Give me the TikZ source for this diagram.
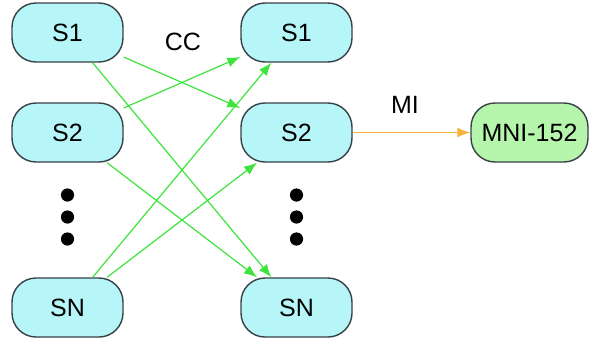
\documentclass[tikz,border=0pt]{standalone}
\usepackage{fontspec}
\setmainfont{Liberation Sans}
\usetikzlibrary{arrows.meta}
\definecolor{scanfill}{RGB}{182,245,248}
\definecolor{atlasfill}{RGB}{182,245,172}
\definecolor{boxline}{RGB}{55,65,70}
\definecolor{ccgreen}{RGB}{60,228,60}
\definecolor{miorange}{RGB}{245,178,60}

\begin{document}
\begin{tikzpicture}[x=0.5pt, y=-0.5pt, font=\fontsize{12.5}{14}\selectfont,
        scan/.style={draw=boxline, line width=0.7pt, fill=scanfill, rounded corners=12pt,
            minimum width=55.5pt, minimum height=29.5pt, inner sep=0pt},
        atlas/.style={scan, fill=atlasfill, minimum width=58.5pt},
        cc/.style={-{Latex[length=6.5pt,width=5pt]}, draw=ccgreen, fill=ccgreen, line width=0.6pt},
        mi/.style={-{Latex[length=6.5pt,width=5pt]}, draw=miorange, fill=miorange, line width=0.8pt}]
        \useasboundingbox (0,0) rectangle (589,343);

        \node[scan] (l1) at (67.5, 32.5) {S1};
        \node[scan] (l2) at (67.5, 132.5) {S2};
        \node[scan] (ln) at (67.5, 307.5) {SN};
        \node[scan] (r1) at (296.5, 32.5) {S1};
        \node[scan] (r2) at (296.5, 132.5) {S2};
        \node[scan] (rn) at (296.5, 307.5) {SN};
        \node[atlas] (mni) at (529.5, 132.5) {MNI-152};

        \node (cclabel) at (183, 42) {CC};
        \node (milabel) at (405, 105) {MI};

        \foreach \y in {195, 217, 239} {
            \fill (67.5, \y) circle (3.3pt);
            \fill (296.5, \y) circle (3.3pt);
        }

        \path[cc]
        (l1) edge (r2)
        (l1) edge (rn)
        (l2) edge (r1)
        (l2) edge (rn)
        (ln) edge (r1)
        (ln) edge (r2)
        ;
        \path[mi] (r2) edge (mni);
    \end{tikzpicture}
\end{document}
